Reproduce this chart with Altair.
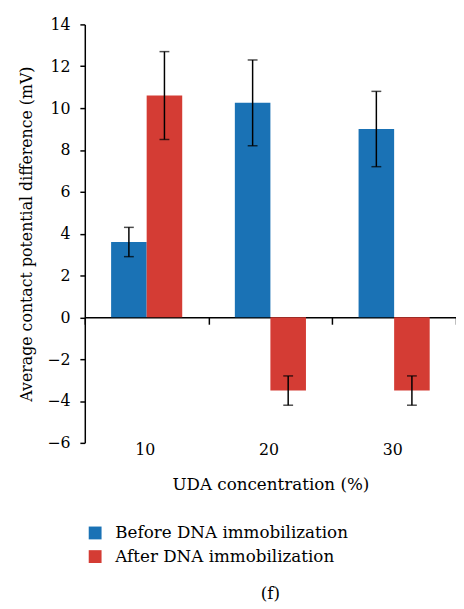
import altair as alt
import pandas as pd

categories = ["10", "20", "30"]
series = ["Before DNA immobilization", "After DNA immobilization"]
before_vals = [3.6, 10.25, 9.0]
before_err = [0.7, 2.05, 1.8]
after_vals = [10.6, -3.5, -3.5]
after_err = [2.1, 0.7, 0.7]
colors = ["#1a72b5", "#d43c34"]

rows = []
for i, c in enumerate(categories):
    rows.append({"cat": c, "series": series[0], "value": before_vals[i],
                 "lo": before_vals[i] - before_err[i], "hi": before_vals[i] + before_err[i]})
    rows.append({"cat": c, "series": series[1], "value": after_vals[i],
                 "lo": after_vals[i] - after_err[i], "hi": after_vals[i] + after_err[i]})
df = pd.DataFrame(rows)

FONT = "DejaVu Serif"
LFS = 16   # tick labels
TFS = 17   # titles, legend
W, H = 377, 425

x_axis = alt.Axis(title="UDA concentration (%)", labelAngle=0,
                  offset=-H * 6 / 20, tickBand="extent", tickSize=7,
                  labelPadding=119, titlePadding=20, labelOffset=-2,
                  domainColor="black", tickColor="black",
                  domainWidth=1.5, tickWidth=1.5,
                  labelFont=FONT, titleFont=FONT, labelFontSize=LFS, titleFontSize=TFS,
                  labelColor="black", titleColor="black", titleFontWeight="normal")
y_axis = alt.Axis(title="Average contact potential difference (mV)",
                  values=list(range(-6, 15, 2)), grid=False, tickSize=5,
                  labelPadding=10, titlePadding=13,
                  domainColor="black", tickColor="black",
                  domainWidth=1.5, tickWidth=1.5,
                  labelFont=FONT, titleFont=FONT, labelFontSize=LFS,
                  titleFontSize=16, labelColor="black", titleColor="black",
                  titleFontWeight="normal")
x_scale = alt.Scale(paddingInner=0, paddingOuter=0)
y_scale = alt.Scale(domain=[-6, 14], nice=False)
xenc = alt.X("cat:N", sort=categories, scale=x_scale, axis=x_axis)
xoff = alt.XOffset("series:N", sort=series,
                   scale=alt.Scale(paddingInner=0, paddingOuter=0.74))

bars = alt.Chart(df).mark_bar().encode(
    x=xenc,
    xOffset=xoff,
    y=alt.Y("value:Q", scale=y_scale, axis=y_axis),
    color=alt.Color("series:N", sort=series,
                    scale=alt.Scale(domain=series, range=colors),
                    legend=alt.Legend(title=None, orient="none", legendX=2, legendY=508,
                                      direction="vertical", symbolType="square",
                                      symbolSize=170, symbolStrokeWidth=0,
                                      labelFontSize=TFS, labelFont=FONT, labelLimit=400,
                                      labelColor="black", rowPadding=6,
                                      symbolOpacity=1, labelOffset=12)),
)

rules = alt.Chart(df).mark_rule(color="black", strokeWidth=1.5).encode(
    x=xenc, xOffset=xoff,
    y=alt.Y("lo:Q", scale=y_scale, axis=y_axis), y2="hi:Q")
cap_lo = alt.Chart(df).mark_tick(color="black", thickness=1.5, size=10, orient="horizontal").encode(
    x=xenc, xOffset=xoff, y=alt.Y("lo:Q", scale=y_scale, axis=y_axis))
cap_hi = alt.Chart(df).mark_tick(color="black", thickness=1.5, size=10, orient="horizontal").encode(
    x=xenc, xOffset=xoff, y=alt.Y("hi:Q", scale=y_scale, axis=y_axis))

chart = alt.layer(bars, rules, cap_lo, cap_hi).properties(
    width=W, height=H,
    autosize=alt.AutoSizeParams(type="none"),
    padding={"left": 78, "top": 12, "right": 0, "bottom": 160},
    title=alt.TitleParams("(f)", orient="bottom", font=FONT, fontSize=TFS,
                          fontWeight="normal", color="black", offset=22),
).configure_view(stroke=None)

chart.save("out.html", embed_options={"renderer": "svg", "actions": False})
